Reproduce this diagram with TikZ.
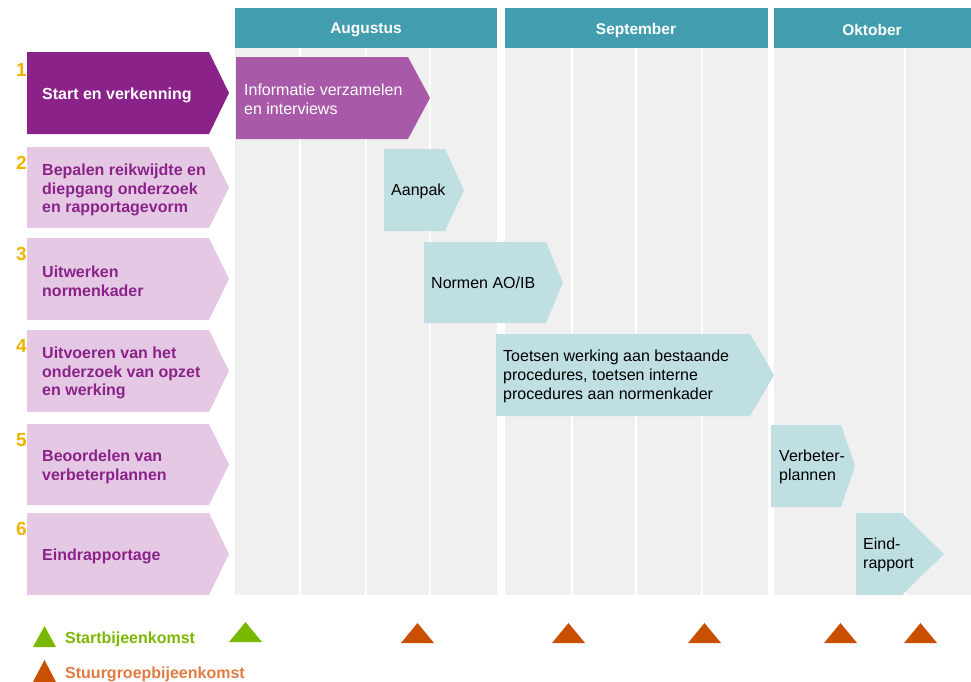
\documentclass[tikz,border=0pt]{standalone}
\usepackage{fontspec}
\setmainfont{Liberation Sans}
\definecolor{head}{HTML}{429DAE}
\definecolor{gridgrey}{HTML}{F0F0F0}
\definecolor{dpurple}{HTML}{8B2289}
\definecolor{lpurple}{HTML}{E4C8E4}
\definecolor{mpurple}{HTML}{A85AA8}
\definecolor{lblue}{HTML}{BFDFE3}
\definecolor{gold}{HTML}{F0B400}
\definecolor{lgreen}{HTML}{7AB800}
\definecolor{dorange}{HTML}{C85000}
\definecolor{torange}{HTML}{E07A40}
\newcommand\chevbox[6]{\fill[#6] (#1,#2) -- (#3,#2) -- (#4,{(#2+#5)/2}) -- (#3,#5) -- (#1,#5) -- cycle;}
\newcommand\tri[4]{\fill[#4] (#1,#3) -- ({#1+33},#3) -- ({#1+16.5},{#3-20}) -- cycle;}
\begin{document}
\begin{tikzpicture}[x=1pt,y=-1pt,
  stepnum/.style={anchor=base west, inner sep=0, font=\fontsize{19}{19}\selectfont\bfseries, text=gold},
  steptxt/.style={anchor=west, inner sep=0, align=left, font=\fontsize{16}{18.6}\selectfont\bfseries, text=dpurple},
  tasktxt/.style={anchor=west, inner sep=0, align=left, font=\fontsize{16}{19}\selectfont, text=black},
  monthtxt/.style={inner sep=0, font=\fontsize{15.5}{15.5}\selectfont\bfseries, text=white},
  legtxt/.style={anchor=west, inner sep=0, font=\fontsize{16}{16}\selectfont\bfseries},
  sep/.style={white, line width=2pt}]
\useasboundingbox (0,0) rectangle (971,681);
% month headers
\fill[head] (235,8) rectangle (497,48);
\fill[head] (505,8) rectangle (768,48);
\fill[head] (774,8) rectangle (971,48);
\node[monthtxt] (aug) at (366,30) {Augustus};
\node[monthtxt] (sep) at (636,30) {September};
\node[monthtxt] (okt) at (872,30) {Oktober};
% grid
\fill[gridgrey] (235,48) rectangle (497,595);
\fill[gridgrey] (505,48) rectangle (768,595);
\fill[gridgrey] (774,48) rectangle (971,595);
\foreach \x in {300,366,430,572,636,702,905} \draw[sep] (\x,48) -- (\x,595);
% steps
\chevbox{27}{52}{209}{229}{134}{dpurple}
\chevbox{27}{147}{209}{229}{228}{lpurple}
\chevbox{27}{238}{209}{229}{320}{lpurple}
\chevbox{27}{330}{209}{229}{412}{lpurple}
\chevbox{27}{424}{209}{229}{505}{lpurple}
\chevbox{27}{513}{209}{229}{595}{lpurple}
\node[stepnum] (n1) at (16,76) {1};
\node[stepnum] (n2) at (16,169) {2};
\node[stepnum] (n3) at (16,260) {3};
\node[stepnum] (n4) at (16,352) {4};
\node[stepnum] (n5) at (16,446) {5};
\node[stepnum] (n6) at (16,535) {6};
\node[steptxt, text=white] (s1) at (42,95) {Start en verkenning};
\node[steptxt] (s2) at (42,190) {Bepalen reikwijdte en\\diepgang onderzoek\\en rapportagevorm};
\node[steptxt] (s3) at (42,281) {Uitwerken\\normenkader};
\node[steptxt] (s4) at (42,373) {Uitvoeren van het\\onderzoek van opzet\\en werking};
\node[steptxt] (s5) at (42,467) {Beoordelen van\\verbeterplannen};
\node[steptxt] (s6) at (42,556) {Eindrapportage};
% tasks
\chevbox{236}{57}{408}{430}{139}{mpurple}
\chevbox{384}{149}{445}{464}{231}{lblue}
\chevbox{424}{242}{546}{563}{323}{lblue}
\chevbox{496}{334}{750}{774}{416}{lblue}
\chevbox{771}{425}{841}{855}{507}{lblue}
\chevbox{856}{513}{902}{944}{595}{lblue}
\node[tasktxt, text=white] (t1) at (244,99) {Informatie verzamelen\\en interviews};
\node[tasktxt] (t2) at (391,191) {Aanpak};
\node[tasktxt] (t3) at (431,283) {Normen AO/IB};
\node[tasktxt] (t4) at (503,376) {Toetsen werking aan bestaande\\procedures, toetsen interne\\procedures aan normenkader};
\node[tasktxt] (t5) at (779,467) {Verbeter-\\plannen};
\node[tasktxt] (t6) at (863,555) {Eind-\\rapport};
% meetings
\tri{229}{0}{642}{lgreen}
\foreach \x in {401,552,688,824,904} {\tri{\x}{0}{643}{dorange}}
% legend
\fill[lgreen] (33,647) -- (56,647) -- (44.5,626) -- cycle;
\fill[dorange] (33,682) -- (56,682) -- (44.5,660) -- cycle;
\node[legtxt, text=lgreen] (l1) at (65,639) {Startbijeenkomst};
\node[legtxt, text=torange] (l2) at (65,674) {Stuurgroepbijeenkomst};
\end{tikzpicture}
\end{document}
